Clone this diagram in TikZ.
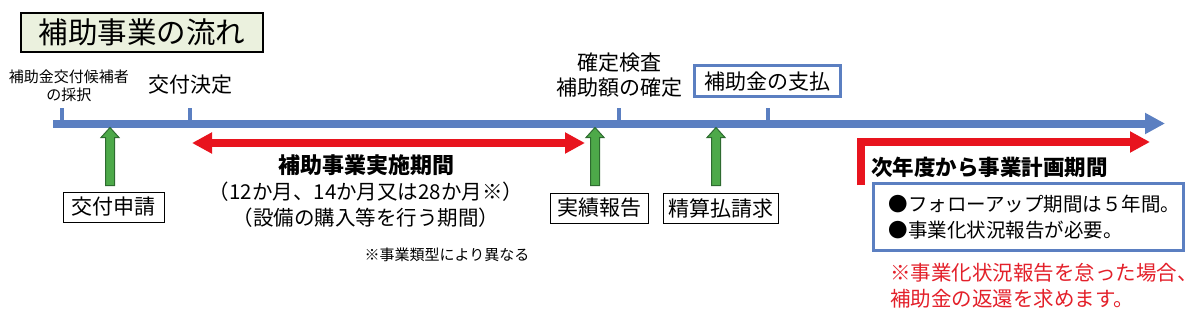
\documentclass[tikz,border=0pt]{standalone}
\usepackage{fontspec}
\setmainfont{Noto Sans CJK JP}
\usetikzlibrary{arrows.meta,positioning}
\definecolor{ink}{HTML}{000000}
\definecolor{lineblue}{HTML}{5B7FC1}
\definecolor{periodred}{HTML}{E8141E}
\definecolor{notered}{HTML}{E3202A}
\definecolor{upgreen}{HTML}{4DA949}
\definecolor{upgreendark}{HTML}{2E6B30}
\definecolor{titlefill}{HTML}{EBF1DE}
\newcommand{\titlesize}{\fontsize{29.5}{34}\selectfont}
\newcommand{\labelsize}{\fontsize{21}{25}\selectfont}
\newcommand{\bodysize}{\fontsize{20.5}{26}\selectfont}
\newcommand{\smallsize}{\fontsize{15}{18}\selectfont}
% green block arrow pointing up; #1 is its tip
\newcommand{\blockup}[1]{%
  \draw[blockarrow] #1 -- ++(9,10) -- ++(-4.5,0) -- ++(0,48) -- ++(-9,0)
    -- ++(0,-48) -- ++(-4.5,0) -- cycle;}
\tikzset{
  every picture/.style = {line join=miter},
  timeline/.style      = {lineblue, line width=8pt, -{Triangle[length=20pt,width=20pt]}},
  tick/.style          = {lineblue, line width=3.5pt},
  period/.style        = {periodred, line width=7.5pt},
  blockarrow/.style    = {draw=upgreendark, fill=upgreen, line width=1pt},
  titlebox/.style      = {draw=ink, fill=titlefill, line width=1.2pt, inner sep=0pt,
                          minimum width=242pt, minimum height=39pt, font=\titlesize},
  paybox/.style        = {draw=lineblue, line width=3pt, inner sep=0pt,
                          minimum width=146pt, minimum height=31pt, font=\labelsize},
  stepbox/.style       = {draw=ink, line width=1pt, inner sep=0pt,
                          minimum height=30pt, font=\labelsize},
  followbox/.style     = {draw=lineblue, line width=3pt, inner xsep=15pt,
                          minimum width=310pt, minimum height=67pt, text width=280pt,
                          align=left, font=\fontsize{19.5}{26}\selectfont},
}

\begin{document}
\begin{tikzpicture}[x=1pt, y=-1pt]   % pixel grid, y runs downwards
  \useasboundingbox (0,0) rectangle (1200,313);
  \def\tip{{Triangle[length=20pt,width=20pt]}}

  % ---------- title ----------------------------------------------------------
  \node[titlebox] (title) at (142,32.5) {補助事業の流れ};

  % ---------- milestones above the time line ---------------------------------
  \node[font=\smallsize, align=center] (saitaku) at (69,86) {補助金交付候補者\\の採択};
  \node[font=\labelsize] (kettei) at (190,85) {交付決定};
  \node[font=\labelsize, align=center] (kensa) at (619,75.5) {確定検査\\補助額の確定};
  \node[paybox] (shiharai) at (767,81.5) {補助金の支払};

  % time line with its ticks
  \coordinate (tl0) at (53,123.5);
  \coordinate (tl1) at (1165,123.5);
  \draw[timeline] (tl0) -- (tl1);
  \draw[tick] (62,108)  -- (62,124);
  \draw[tick] (190,108) -- (190,124);
  \draw[tick] (619,108) -- (619,124);
  \draw[tick] (768,108) -- (768,124);

  % ---------- steps below, pushed up to the line -----------------------------
  \node[stepbox, minimum width=101pt] (shinsei) at (113.5,207) {交付申請};
  \node[stepbox, minimum width=98pt]  (jisseki) at (599,208) {実績報告};
  \node[stepbox, minimum width=115pt] (seisan)  at (720.5,208) {精算払請求};
  \coordinate (up1) at (110,127.5);
  \coordinate (up2) at (595,127.5);
  \coordinate (up3) at (716,127.5);
  \blockup{(up1)}
  \blockup{(up2)}
  \blockup{(up3)}

  % ---------- implementation period ------------------------------------------
  \coordinate (p0) at (192,143);
  \coordinate (p1) at (585,143);
  \draw[period, \tip-\tip] (p0) -- (p1);
  \node[font=\bodysize, align=center] (jisshi) at (366,191)
    {{\fontsize{22}{26}\selectfont\bfseries 補助事業実施期間}\\（12か月、14か月又は28か月※）\\（設備の購入等を行う期間）};
  \node[font=\smallsize] (typenote) at (447,255) {※事業類型により異なる};

  % ---------- plan period after the project ----------------------------------
  \coordinate (q0) at (861,185);
  \coordinate (q1) at (861,142);
  \coordinate (q2) at (1150,142);
  \draw[period, -\tip] (q0) -- (q1) -- (q2);
  \node[font=\fontsize{21.5}{25}\selectfont\bfseries, anchor=west, inner sep=0pt] (keikaku) at (871,167) {次年度から事業計画期間};
  \node[followbox, anchor=north west] (follow) at (872,182)
    {●フォローアップ期間は５年間。\\●事業化状況報告が必要。};
  \node[font=\bodysize, text=notered, align=left, anchor=west, inner sep=0pt] (henkan) at (890,286)
    {※事業化状況報告を怠った場合、\\補助金の返還を求めます。};
\end{tikzpicture}
\end{document}
